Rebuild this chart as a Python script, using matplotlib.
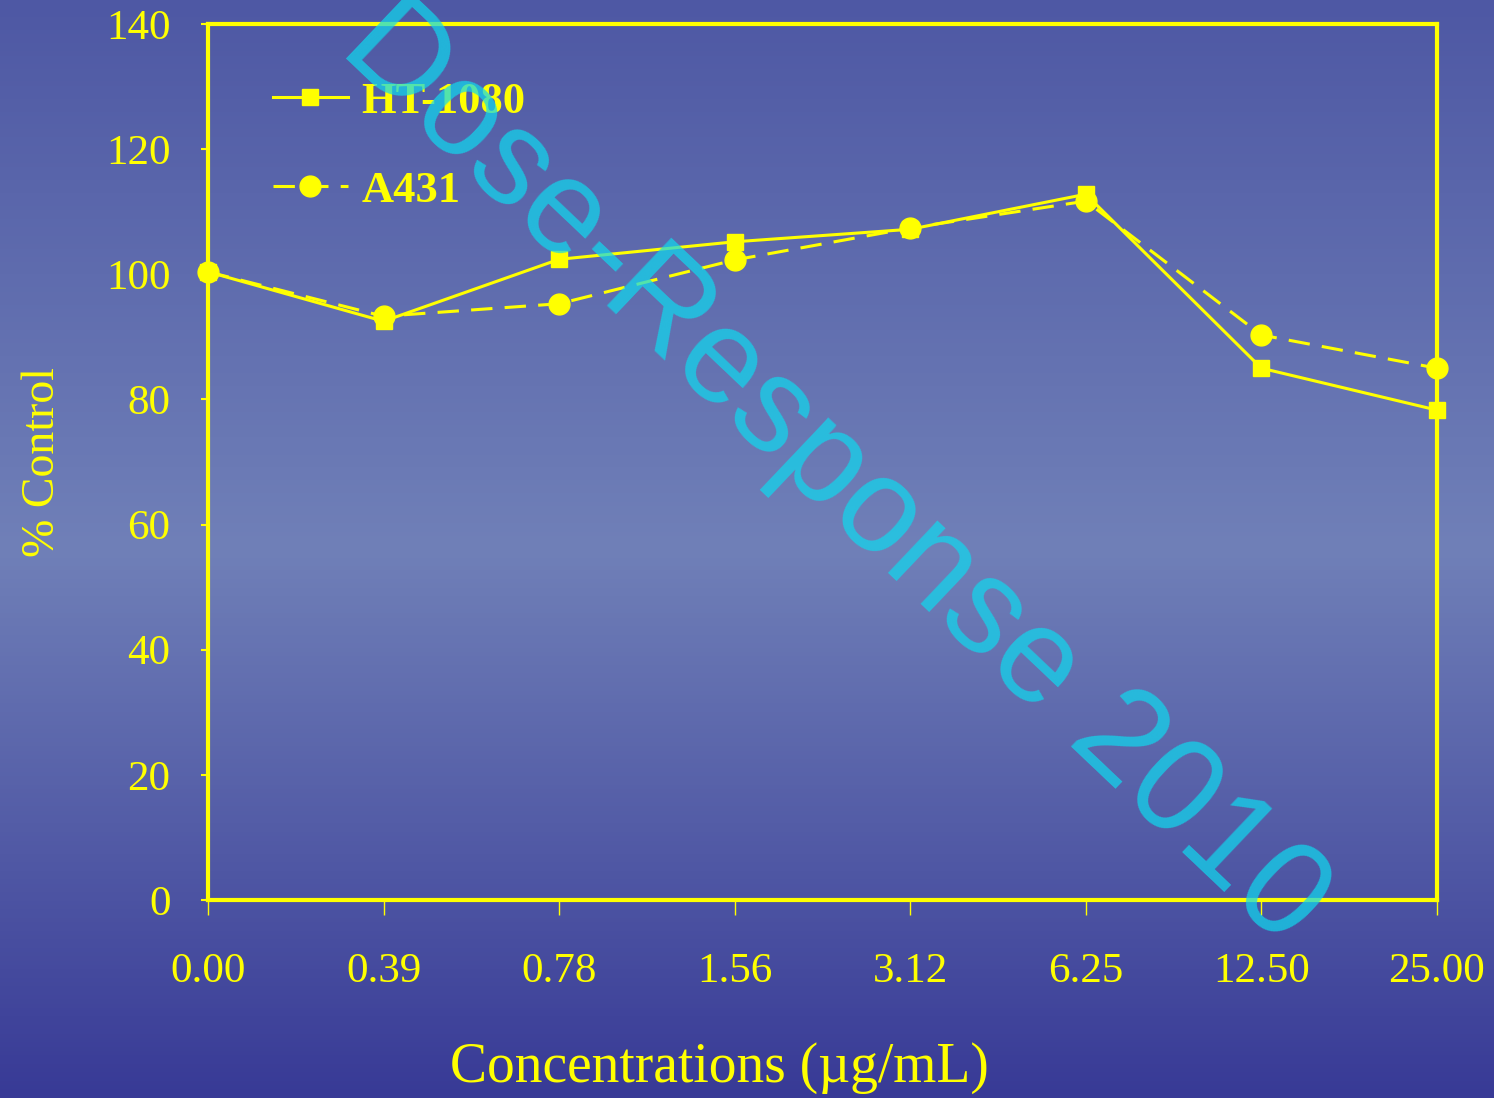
import numpy as np
import matplotlib
matplotlib.use("Agg")
import matplotlib.pyplot as plt
from matplotlib.colors import LinearSegmentedColormap
from matplotlib.lines import Line2D

# Data
concentrations = ["0.00", "0.39", "0.78", "1.56", "3.12", "6.25", "12.50", "25.00"]
ht1080 = [100.4, 92.5, 102.4, 105.2, 107.2, 112.8, 85.0, 78.3]
a431 = [100.4, 93.3, 95.3, 102.3, 107.4, 111.7, 90.3, 85.0]
yticks = [0, 20, 40, 60, 80, 100, 120, 140]

yellow = "#ffff00"
plt.rcParams['font.family'] = ['Liberation Serif', 'DejaVu Serif']

fig = plt.figure(figsize=(14.94, 10.98), dpi=100)

# background gradient
bg = fig.add_axes([0, 0, 1, 1], zorder=0)
cmap = LinearSegmentedColormap.from_list(
    "bg", [(0.0, "#4e58a4"), (0.5, "#7080b8"), (1.0, "#383a96")])
grad = np.linspace(0, 1, 256).reshape(-1, 1)
bg.imshow(grad, aspect="auto", cmap=cmap, extent=[0, 1, 0, 1], origin="upper")
bg.axis("off")

ax = fig.add_axes([0.1392, 0.1803, 0.8226, 0.7978], zorder=1)
ax.set_facecolor("none")

x = np.arange(len(concentrations))
ax.plot(x, ht1080, color=yellow, lw=2.2, marker="s", ms=12, clip_on=False, zorder=3)
ax.plot(x, a431, color=yellow, lw=2.2, ls=(0, (7, 4)), marker="o", ms=15,
        clip_on=False, zorder=3)

ax.set_xlim(0, len(concentrations) - 1)
ax.set_ylim(0, 140)
ax.set_xticks(x)
ax.set_xticklabels(concentrations)
ax.set_yticks(yticks)

for s in ax.spines.values():
    s.set_color(yellow)
    s.set_linewidth(3)

ax.tick_params(axis="x", colors=yellow, labelsize=31, length=11, width=1, pad=27)
ax.tick_params(axis="y", colors=yellow, labelsize=31, length=5, width=1.5, pad=22)

ax.set_ylabel("% Control", color=yellow, fontsize=33, labelpad=30)
fig.text(719 / 1494, 1 - 1068 / 1098, "Concentrations (µg/mL)", color=yellow,
         fontsize=40, ha="center", va="center")

handles = [
    Line2D([], [], color=yellow, lw=2.2, marker="s", ms=12),
    Line2D([], [], color=yellow, lw=2.2, ls=(0, (7, 4)), marker="o", ms=15),
]
leg = ax.legend(handles, ["HT-1080", "A431"], loc="upper left",
                bbox_to_anchor=(0.02, 0.98), frameon=False, handlelength=1.7,
                handletextpad=0.3, labelspacing=1.1,
                prop={"weight": "bold", "size": 32})
for t in leg.get_texts():
    t.set_color(yellow)

# watermark
fig.text(0.558, 0.568, "Dose-Response 2010", rotation=-43.5, fontsize=97,
         family="Liberation Sans", color="#10d8ee", alpha=0.72,
         ha="center", va="center", zorder=5)

fig.savefig("out.png", dpi=100)
